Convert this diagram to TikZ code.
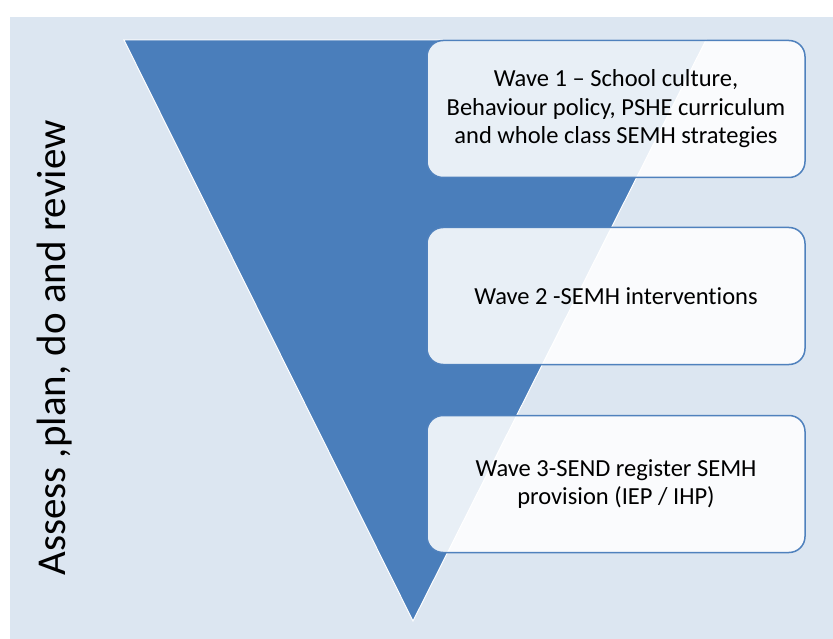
\documentclass[tikz,border=0pt]{standalone}
\usepackage{fontspec}
\setmainfont[Ligatures={NoCommon}]{Carlito}
\definecolor{bgblue}{HTML}{DCE6F1}
\definecolor{triblue}{HTML}{4A7EBB}
\definecolor{boxline}{HTML}{4F81BD}
\begin{document}
\begin{tikzpicture}[x=1pt,y=-1pt,
  wavebox/.style={draw=boxline, line width=1.5pt, fill=white, fill opacity=0.88, text opacity=1,
    rounded corners=16pt, minimum width=378pt, minimum height=137pt, align=center,
    font=\fontsize{24.5}{28.5}\selectfont, inner sep=0pt}]
\useasboundingbox (0,0) rectangle (833,639);
\fill[bgblue] (10,17) rectangle (833,639);
\coordinate (tl) at (124,40);
\coordinate (tr) at (706,40);
\coordinate (bt) at (413,621);
\draw[white, line width=1pt, fill=triblue] (tl) -- (tr) -- (bt) -- cycle;
\node[wavebox] (w1) at (616,109) {Wave 1 – School culture,\\Behaviour policy, PSHE curriculum\\and whole class SEMH strategies};
\node[wavebox] (w2) at (616,296) {Wave 2 -SEMH interventions};
\node[wavebox] (w3) at (616,484) {Wave 3-SEND register SEMH\\provision (IEP / IHP)};
\node[rotate=90, font=\fontsize{41}{48}\selectfont] (lbl) at (55,348) {Assess ,plan, do and review};
\end{tikzpicture}
\end{document}
